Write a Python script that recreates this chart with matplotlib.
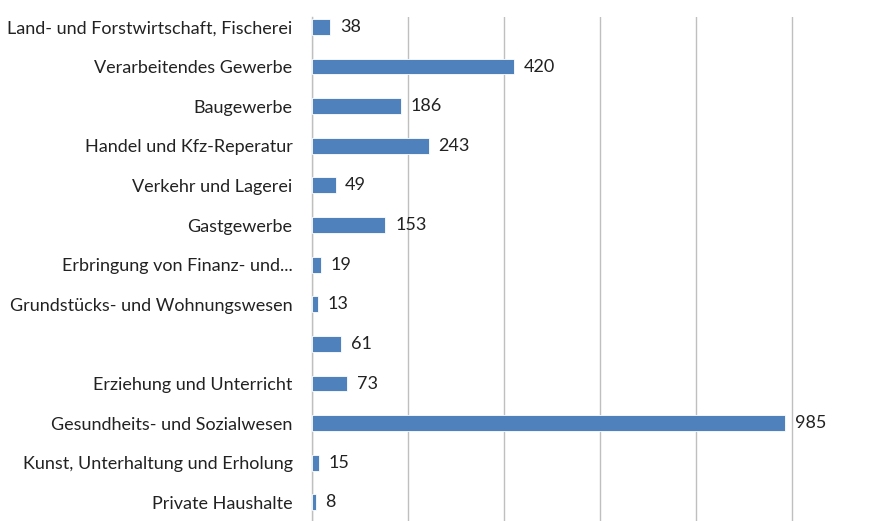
import matplotlib.pyplot as plt

categories = [
    "Land- und Forstwirtschaft, Fischerei",
    "Verarbeitendes Gewerbe",
    "Baugewerbe",
    "Handel und Kfz-Reperatur",
    "Verkehr und Lagerei",
    "Gastgewerbe",
    "Erbringung von Finanz- und...",
    "Grundstücks- und Wohnungswesen",
    "",
    "Erziehung und Unterricht",
    "Gesundheits- und Sozialwesen",
    "Kunst, Unterhaltung und Erholung",
    "Private Haushalte",
]
values = [38, 420, 186, 243, 49, 153, 19, 13, 61, 73, 985, 15, 8]
grid_ticks = [0, 200, 400, 600, 800, 1000]

plt.rcParams["font.family"] = ["Lato", "DejaVu Sans"]

fig = plt.figure(figsize=(8.78, 5.21), dpi=100)
ax = fig.add_axes([312 / 878, 0, (878 - 312) / 878, (521 - 17) / 521])

pos = list(range(len(values)))
ax.barh(pos, values, height=0.4, color="#4F81BD", edgecolor="white", linewidth=0.6, zorder=3)

for p, v in zip(pos, values):
    ax.annotate(str(v), (v, p), xytext=(7, 0), textcoords="offset points",
                va="center", ha="left", fontsize=13, color="#222222")

ax.set_xlim(0, (878 - 312) / 0.48)
ax.set_ylim(12.47, -0.25)
ax.set_xticks(grid_ticks)
ax.set_xticklabels([])
ax.tick_params(axis="x", length=0)
ax.grid(axis="x", color="#BFBFBF", linewidth=1.0, zorder=0)

ax.set_yticks(pos)
ax.set_yticklabels(categories, fontsize=13, color="#222222")
ax.tick_params(axis="y", length=0, pad=14)

for side in ["top", "right", "bottom"]:
    ax.spines[side].set_visible(False)
ax.spines["left"].set_color("#BFBFBF")
ax.spines["left"].set_linewidth(1.0)

fig.savefig("out.png", dpi=100)
